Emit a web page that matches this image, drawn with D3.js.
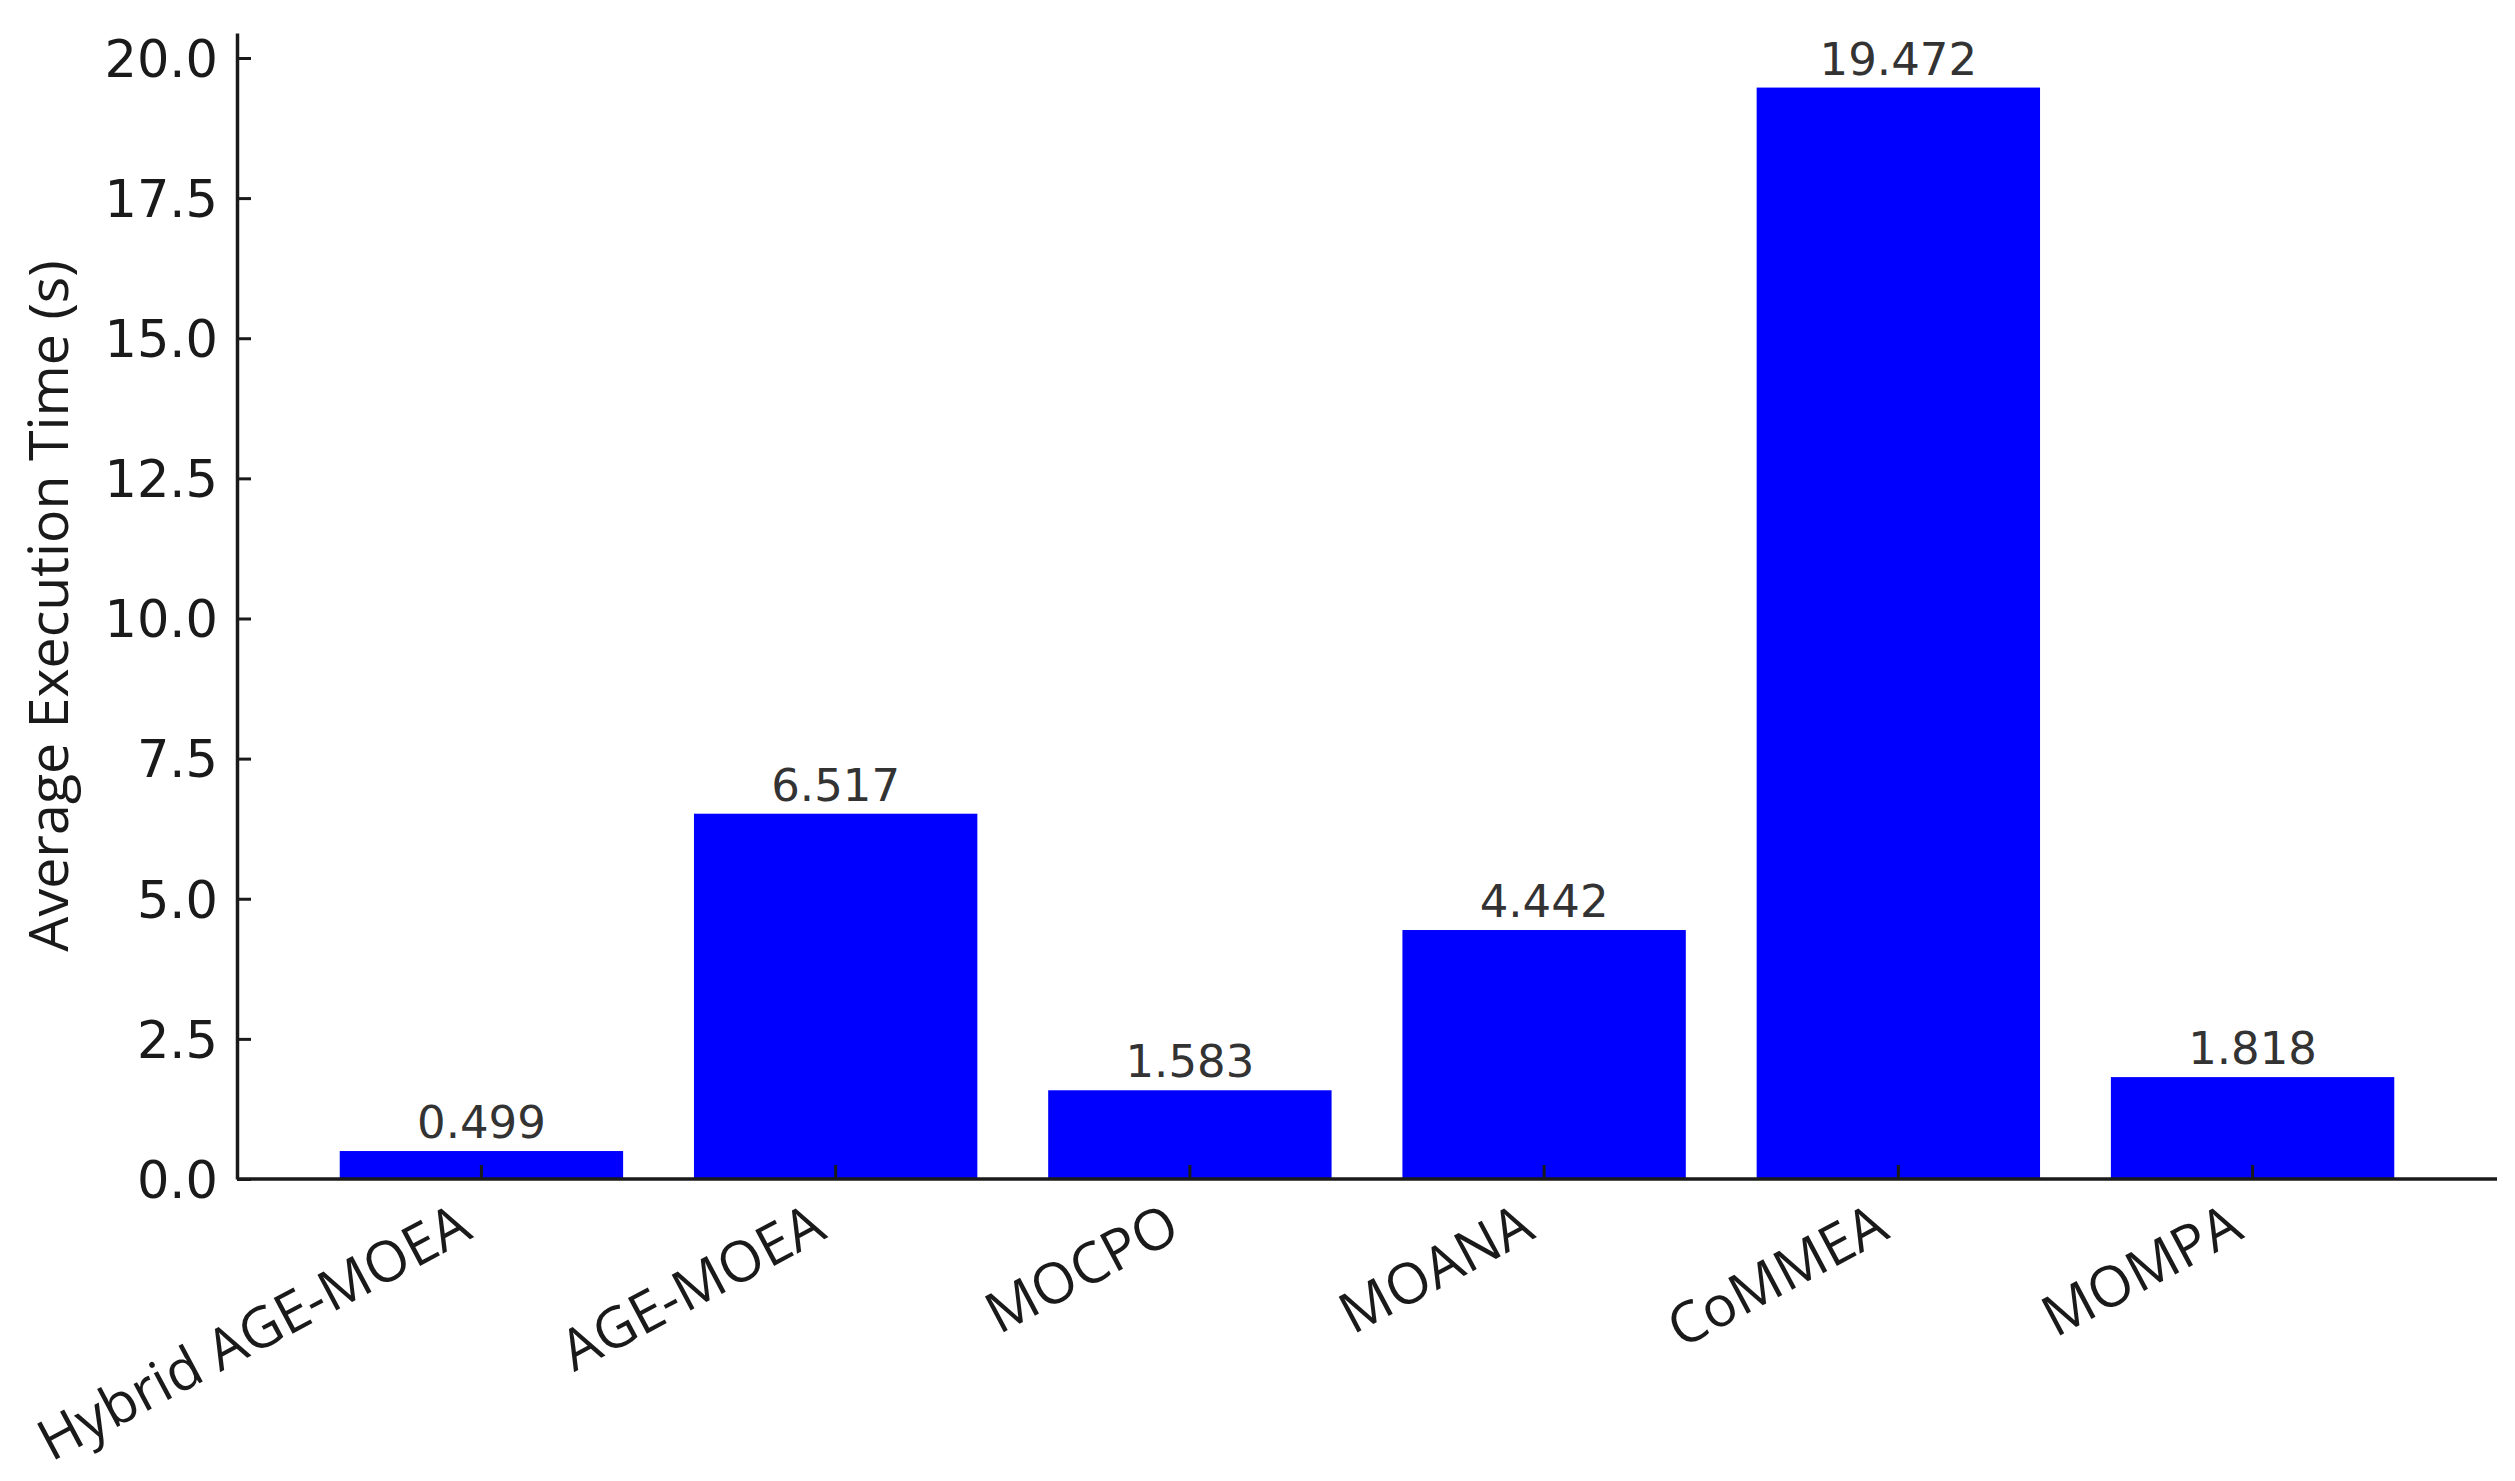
<!DOCTYPE html>
<html>
<head>
<meta charset="utf-8">
<script src="https://cdn.jsdelivr.net/npm/d3@7"></script>
<style>
    body { margin: 0; background: #fff; }
</style>
</head>
<body>
<div id="chart"></div>
<script>
// data
const algorithms = ["Hybrid AGE-MOEA", "AGE-MOEA", "MOCPO", "MOANA", "CoMMEA", "MOMPA"];
const execTimes = [0.499, 6.517, 1.583, 4.442, 19.472, 1.818];
const yTickValues = [0, 2.5, 5, 7.5, 10, 12.5, 15, 17.5, 20];
const yLabelText = "Average Execution Time (s)";

const dimensions = { width: 2515, height: 1481 };
const margin = { top: 33, right: 18, bottom: 302, left: 237 };

const width = dimensions.width - margin.left - margin.right;
const height = dimensions.height - margin.top - margin.bottom;

const svg = d3.select("#chart")
    .append("svg")
        .attr("width", dimensions.width)
        .attr("height", dimensions.height)
        .style("background", "#fff");

const g = svg.append("g")
    .attr("transform", "translate(" + margin.left + "," + margin.top + ")");

// x scale, matplotlib style margins around the bars
const step = width / (algorithms.length + 0.38);
const x = d3.scaleBand()
    .domain(algorithms)
    .range([0.19 * step, width - 0.19 * step])
    .paddingInner(0.2)
    .paddingOuter(0.1);

const y = d3.scaleLinear()
    .domain([0, d3.max(execTimes) * 1.05])
    .range([height, 0]);

// bars
g.selectAll("rect.bar")
    .data(execTimes)
    .enter()
    .append("rect")
        .attr("class", "bar")
        .attr("x", (d, i) => x(algorithms[i]))
        .attr("y", d => y(d))
        .attr("width", x.bandwidth())
        .attr("height", d => height - y(d))
        .attr("fill", "#0000ff");

// value labels
g.selectAll("text.value")
    .data(execTimes)
    .enter()
    .append("text")
        .attr("class", "value")
        .attr("x", (d, i) => x(algorithms[i]) + x.bandwidth() / 2)
        .attr("y", d => y(d) - 13)
        .attr("text-anchor", "middle")
        .attr("font-family", "DejaVu Sans")
        .attr("font-size", 45)
        .attr("fill", "#333")
        .text(d => d3.format(".3f")(d));

// y axis, ticks pointing inward
const yAxis = g.append("g")
    .call(d3.axisLeft(y)
        .tickValues(yTickValues)
        .tickFormat(d3.format(".1f"))
        .tickSizeInner(-14)
        .tickSizeOuter(0)
        .tickPadding(19));

yAxis.select(".domain")
    .attr("stroke", "#1a1a1a")
    .attr("stroke-width", 3.5);
yAxis.selectAll(".tick line")
    .attr("stroke", "#1a1a1a")
    .attr("stroke-width", 3);
yAxis.selectAll(".tick text")
    .attr("font-family", "DejaVu Sans")
    .attr("font-size", 51)
    .attr("fill", "#1a1a1a")
    .attr("dy", "0.36em");

// x axis
const xAxis = g.append("g")
    .attr("transform", "translate(0," + height + ")")
    .call(d3.axisBottom(x)
        .tickSizeInner(-14)
        .tickSizeOuter(0));

xAxis.select(".domain").remove();
xAxis.selectAll(".tick line")
    .attr("stroke", "#1a1a1a")
    .attr("stroke-width", 3);
xAxis.selectAll(".tick text")
    .attr("x", 0)
    .attr("y", 0)
    .attr("dy", 0)
    .attr("transform", "translate(-7,58) rotate(-28)")
    .attr("text-anchor", "end")
    .attr("font-family", "Open Sans")
    .attr("font-size", 56.5)
    .attr("fill", "#1a1a1a");

// bottom spine across the full width
g.append("line")
    .attr("x1", 0)
    .attr("x2", width)
    .attr("y1", height)
    .attr("y2", height)
    .attr("stroke", "#1a1a1a")
    .attr("stroke-width", 3.5);

// y-axis label
svg.append("text")
    .attr("transform", "translate(68," + (margin.top + height / 2) + ") rotate(-90)")
    .attr("text-anchor", "middle")
    .attr("font-family", "Open Sans")
    .attr("font-size", 55.5)
    .attr("fill", "#1a1a1a")
    .text(yLabelText);
</script>
</body>
</html>
